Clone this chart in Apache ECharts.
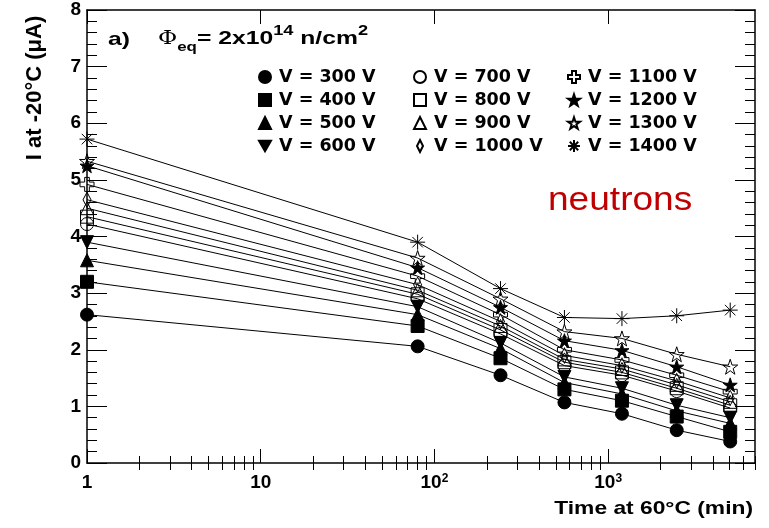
<!DOCTYPE html>
<html><head><meta charset="utf-8">
<script src="https://cdn.jsdelivr.net/npm/echarts@6/dist/echarts.min.js"></script>
<style>html,body{margin:0;padding:0;background:#fff}#c{width:769px;height:528px}</style>
</head><body><div id="c"></div>
<script>
const times = [1, 80, 240, 560, 1200, 2480, 5040];
const V300 = [2.62, 2.06, 1.55, 1.07, 0.87, 0.58, 0.38];
const V400 = [3.20, 2.42, 1.85, 1.30, 1.10, 0.82, 0.55];
const V500 = [3.58, 2.62, 2.02, 1.42, 1.22, 0.92, 0.70];
const V600 = [3.90, 2.76, 2.12, 1.52, 1.32, 1.02, 0.80];
const V700 = [4.22, 2.90, 2.28, 1.72, 1.55, 1.27, 0.97];
const V800 = [4.35, 2.98, 2.35, 1.78, 1.60, 1.32, 1.02];
const V900 = [4.50, 3.05, 2.42, 1.83, 1.66, 1.38, 1.08];
const V1000 = [4.65, 3.15, 2.50, 1.90, 1.72, 1.45, 1.15];
const V1100 = [4.92, 3.30, 2.62, 2.00, 1.82, 1.55, 1.26];
const V1200 = [5.25, 3.45, 2.75, 2.16, 1.99, 1.70, 1.38];
const V1300 = [5.33, 3.62, 2.90, 2.32, 2.20, 1.92, 1.70];
const V1400 = [5.72, 3.90, 3.08, 2.57, 2.55, 2.60, 2.70];
const seriesNames = ['V = 300 V','V = 400 V','V = 500 V','V = 600 V','V = 700 V','V = 800 V','V = 900 V','V = 1000 V','V = 1100 V','V = 1200 V','V = 1300 V','V = 1400 V'];
const seriesValues = [V300,V400,V500,V600,V700,V800,V900,V1000,V1100,V1200,V1300,V1400];
const xMajorTicks = [1, 10, 100, 1000];
const xMinorTicks = [2,3,4,5,6,7,8,9,20,30,40,50,60,70,80,90,200,300,400,500,600,700,800,900,2000,3000,4000,5000,6000,7000];
const xTickLabels = ['1', '10', '10{s|2}', '10{s|3}'];

const STAR = 'path://M50,0L61.8,35.5L98.1,35.5L68.8,57.4L79.9,91.9L50,70.5L20.1,91.9L31.2,57.4L1.9,35.5L38.2,35.5Z';
const DOWN = 'path://M0,0L20,0L10,17.3Z';
const CROSS = 'path://M1,0H2V1H3V2H2V3H1V2H0V1H1Z';
const DIAM = 'path://M5,0L10,10L5,20L0,10Z';
const AST = 'path://M10,0L10,20M0,10L20,10M3,3L17,17M3,17L17,3';
const HOLLOW = 'rgba(0,0,0,0)';
const styles = [
  {symbol:'circle', size:13, fill:'#000'},
  {symbol:'rect', size:13, fill:'#000'},
  {symbol:'triangle', size:13, fill:'#000'},
  {symbol:DOWN, size:13, fill:'#000'},
  {symbol:'circle', size:13, fill:HOLLOW},
  {symbol:'rect', size:13, fill:HOLLOW},
  {symbol:'triangle', size:13, fill:HOLLOW},
  {symbol:DIAM, size:[8,15], fill:HOLLOW},
  {symbol:CROSS, size:14, fill:HOLLOW},
  {symbol:STAR, size:14, fill:'#000'},
  {symbol:STAR, size:15, fill:HOLLOW},
  {symbol:AST, size:15, fill:HOLLOW}
];

const FONT = '"Liberation Sans", Arial, sans-serif';
const LFONT = '"DejaVu Sans", sans-serif';
const series = seriesNames.map((n, i) => ({
  name: n, type: 'line', xAxisIndex: 0, yAxisIndex: 0,
  data: times.map((t, j) => [t, seriesValues[i][j]]),
  symbol: styles[i].symbol, symbolSize: styles[i].size, showAllSymbol: true, clip: false,
  lineStyle: {color: '#000', width: 1},
  itemStyle: {color: styles[i].fill, borderColor: '#000', borderWidth: 1},
  emphasis: {disabled: true}, animation: false, z: 3
}));

function legendCol(names, startIdx, left) {
  return {
    left: left, top: 63, orient: 'vertical', itemGap: 5, itemWidth: 12, itemHeight: 12,
    selectedMode: false,
    data: names.map((n, k) => ({name: n, icon: styles[startIdx + k].symbol})),
    textStyle: {fontFamily: LFONT, fontWeight: 'bold', fontSize: 17.5, color: '#000', padding: [0,0,0,3]}
  };
}

const xBase = {type: 'log', logBase: 10, min: 1, max: 7000, splitLine: {show: false}, axisLabel: {show: false}, axisLine: {show: false}, axisTick: {show: false}, gridIndex: 0};
const option = {
  animation: false,
  grid: {left: 87, right: 14, top: 10, bottom: 65},
  xAxis: [
    Object.assign({}, xBase, {position: 'bottom',
      axisLine: {show: true, onZero: false, lineStyle: {color: '#000', width: 1.5}},
      axisTick: {show: true, inside: true, length: 14, customValues: xMajorTicks, lineStyle: {color: '#000', width: 1}},
      axisLabel: {show: true, customValues: xMajorTicks, margin: 10,
        formatter: (v) => xTickLabels[xMajorTicks.indexOf(Math.round(v))] || '',
        fontFamily: FONT, fontWeight: 'bold', fontSize: 19, color: '#000',
        rich: {s: {fontFamily: FONT, fontWeight: 'bold', fontSize: 12, verticalAlign: 'top', color: '#000'}}}}),
    Object.assign({}, xBase, {position: 'bottom',
      axisTick: {show: true, inside: true, length: 7, customValues: xMinorTicks, lineStyle: {color: '#000', width: 1}}}),
    Object.assign({}, xBase, {position: 'top',
      axisLine: {show: true, onZero: false, lineStyle: {color: '#000', width: 1.5}},
      axisTick: {show: true, inside: true, length: 14, customValues: xMajorTicks, lineStyle: {color: '#000', width: 1}}}),
    Object.assign({}, xBase, {position: 'top',
      axisTick: {show: true, inside: true, length: 7, customValues: xMinorTicks, lineStyle: {color: '#000', width: 1}}})
  ],
  yAxis: [
    {type: 'value', min: 0, max: 8, interval: 1, position: 'left', splitLine: {show: false},
      axisLine: {show: true, onZero: false, lineStyle: {color: '#000', width: 1.5}},
      axisTick: {show: true, inside: true, length: 20, lineStyle: {color: '#000'}},
      minorTick: {show: true, splitNumber: 5, length: 10, lineStyle: {color: '#000'}},
      axisLabel: {margin: 6, fontFamily: FONT, fontWeight: 'bold', fontSize: 19, color: '#000'}},
    {type: 'value', min: 0, max: 8, interval: 1, position: 'right', splitLine: {show: false},
      axisLine: {show: true, onZero: false, lineStyle: {color: '#000', width: 1.5}},
      axisTick: {show: true, inside: true, length: 20, lineStyle: {color: '#000'}},
      minorTick: {show: true, splitNumber: 5, length: 10, lineStyle: {color: '#000'}},
      axisLabel: {show: false}}
  ],
  legend: [
    legendCol(seriesNames.slice(0,4), 0, 253),
    legendCol(seriesNames.slice(4,8), 4, 408),
    legendCol(seriesNames.slice(8,12), 8, 562)
  ],
  series: series,
  graphic: [
    {type: 'text', x: 108, y: 30, scaleX: 1.3, silent: true,
      style: {text: 'a)', fontFamily: FONT, fontWeight: 'bold', fontSize: 19, fill: '#000', align: 'left', verticalAlign: 'top'}},
    {type: 'text', x: 158, y: 24, scaleX: 1.3, silent: true,
      style: {text: '{p|Φ}{sub|eq}{t|= 2x10}{sup|14}{t| n/cm}{sup|2}', align: 'left', verticalAlign: 'top',
        rich: {
          p: {fontFamily: 'DejaVu Serif, serif', fontSize: 18, fill: '#000', lineHeight: 30, verticalAlign: 'middle'},
          sub: {fontFamily: FONT, fontWeight: 'bold', fontSize: 13, fill: '#000', verticalAlign: 'bottom', lineHeight: 13},
          t: {fontFamily: FONT, fontWeight: 'bold', fontSize: 19, fill: '#000', lineHeight: 30, verticalAlign: 'middle'},
          sup: {fontFamily: FONT, fontWeight: 'bold', fontSize: 14, fill: '#000', verticalAlign: 'top', lineHeight: 14}
        }}},
    {type: 'text', x: 548, y: 201, scaleX: 1.09, silent: true,
      style: {text: 'neutrons', fontFamily: FONT, fontSize: 34, fill: '#c00000', align: 'left', verticalAlign: 'middle'}},
    {type: 'text', x: 35, y: 88, rotation: Math.PI / 2, silent: true,
      style: {text: 'I at -20°C (μA)', fontFamily: FONT, fontWeight: 'bold', fontSize: 22, fill: '#000', align: 'center', verticalAlign: 'middle'}},
    {type: 'text', x: 753, y: 509, scaleX: 1.2, silent: true,
      style: {text: 'Time at 60°C (min)', fontFamily: FONT, fontWeight: 'bold', fontSize: 19, fill: '#000', align: 'right', verticalAlign: 'middle'}}
  ]
};
const chart = echarts.init(document.getElementById('c'), null, {renderer: 'canvas'});
chart.setOption(option);
</script></body></html>
